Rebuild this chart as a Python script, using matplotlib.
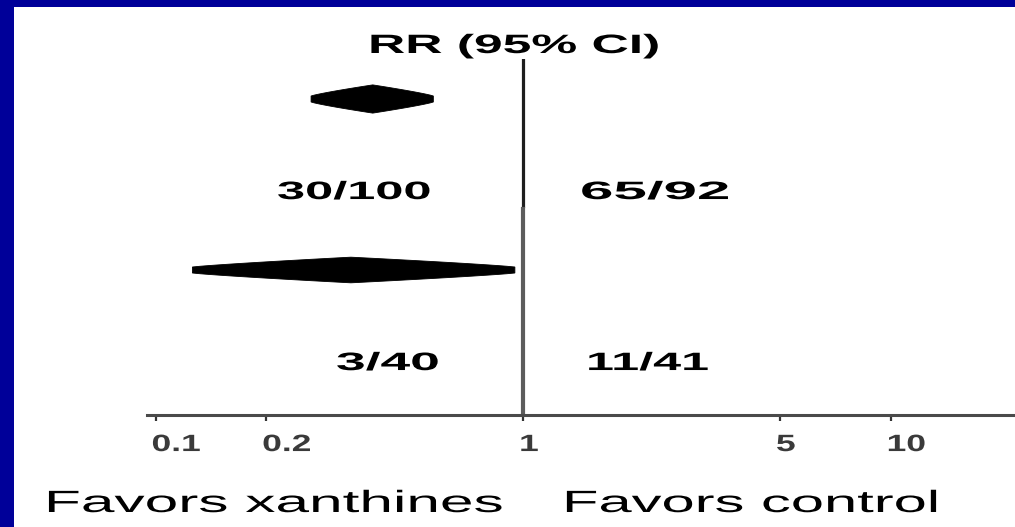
import numpy as np
import matplotlib
matplotlib.use("Agg")
import matplotlib.pyplot as plt
from matplotlib.patheffects import AbstractPathEffect
from matplotlib.transforms import Affine2D, blended_transform_factory
from matplotlib.patches import Rectangle, Polygon
from matplotlib.ticker import NullLocator

# ---------------- data ----------------
rr_estimate = [0.39, 0.34]
rr_ci_low = [0.265, 0.126]
rr_ci_high = [0.57, 0.95]
xanthine_events = ["30/100", "3/40"]
control_events = ["65/92", "11/41"]
tick_values = [0.1, 0.2, 1, 5, 10]
tick_labels = ["0.1", "0.2", "1", "5", "10"]
header = "RR (95% CI)"
favors_left = "Favors xanthines"
favors_right = "Favors control"

# ---------------- layout / style ----------------
W, H = 1015, 527
BLUE = "#000099"
plt.rcParams["font.family"] = ["Liberation Sans", "DejaVu Sans"]


class Stretch(AbstractPathEffect):
    """Horizontally widen glyphs from the text's left anchor."""

    def __init__(self, sx=1.0, dx=0.0):
        super().__init__()
        self.sx, self.dx = sx, dx

    def draw_path(self, renderer, gc, tpath, affine, rgbFace=None):
        tr = Affine2D().scale(self.sx, 1.0) + affine + Affine2D().translate(self.dx, 0)
        renderer.draw_path(gc, tpath, tr, rgbFace)


fig = plt.figure(figsize=(W / 100, H / 100), dpi=100, facecolor=BLUE)
fig.add_artist(Rectangle((14 / W, 0), 1 - 14 / W, 1 - 7 / H, transform=fig.transFigure,
                         facecolor="white", edgecolor="none", zorder=-5))

AX_L, AX_T, AX_B = 147, 59, 415
ROW0_PX, ROW_STEP = 99, 85.5
ax = fig.add_axes([AX_L / W, 1 - AX_B / H, 1 - AX_L / W, (AX_B - AX_T) / H])
ax.patch.set_visible(False)
ax.set_xscale("log")
ax.set_xlim(0.0948, 21.8)
ax.set_ylim((AX_B - ROW0_PX) / ROW_STEP, (AX_T - ROW0_PX) / ROW_STEP)

# diamonds (pooled RR with 95% CI), lens-like outline
half_h = [0.165, 0.15]
end_h = [0.035, 0.035]
for i in range(len(rr_estimate)):
    r = 2 * i
    lo, est, hi = rr_ci_low[i], rr_estimate[i], rr_ci_high[i]
    u = np.linspace(-1, 1, 41)
    lx = np.where(u < 0, np.log10(est) + u * (np.log10(est) - np.log10(lo)),
                  np.log10(est) + u * (np.log10(hi) - np.log10(est)))
    th = end_h[i] + (half_h[i] - end_h[i]) * (1 - np.abs(u)) ** 0.85
    xs = np.concatenate([10 ** lx, 10 ** lx[::-1]])
    ys = np.concatenate([r - th, (r + th)[::-1]])
    ax.add_patch(Polygon(np.column_stack([xs, ys]), closed=True, facecolor="black",
                         edgecolor="black", lw=0.6, zorder=3))

# line of no effect
split = 0.58
ax.axvline(1, ymin=split + 0.006, ymax=1, color="#1e1e1e", lw=2.3, zorder=2)
ax.axvline(1, ymin=0, ymax=split, color="#5c5c5c", lw=3.0, zorder=2)

for s in ["top", "right", "left"]:
    ax.spines[s].set_visible(False)
ax.spines["bottom"].set_color("#4a4a4a")
ax.spines["bottom"].set_linewidth(2.2)
ax.set_yticks([])
ax.set_xticks(tick_values)
ax.xaxis.set_minor_locator(NullLocator())
ax.set_xticklabels(tick_labels, ha="left", fontweight="bold",
                   path_effects=[Stretch(1.5, -4)])
ax.tick_params(axis="x", direction="out", length=4, width=1.6, color="#333333",
               pad=9, labelsize=17, labelcolor="#3a3a3a")

renderer = fig.canvas.get_renderer()
px_x = Affine2D().scale(1 / W, 1) + fig.transFigure
row_trans = blended_transform_factory(px_x, ax.transData)


def stretched_text(s, left, right, y, cap, weight, transform=None):
    size_pt = cap / 0.716 * 0.72
    if transform is None:
        t = fig.text(left / W, 1 - y / H, s, fontsize=size_pt, fontweight=weight,
                     ha="left", va="baseline", color="black")
    else:
        t = fig.text(left, y, s, fontsize=size_pt, fontweight=weight,
                     ha="left", va="baseline", color="black", transform=transform)
    w = t.get_window_extent(renderer).width
    t.set_path_effects([Stretch((right - left) / w)])
    return t


stretched_text(header, 368, 660, 53, 19, "bold")

count_x = [(277, 432, 580, 730), (336, 440, 586, 710)]
for i in range(len(xanthine_events)):
    yrow = 2 * i + 1 + 0.17
    lx0, lx1, rx0, rx1 = count_x[i]
    stretched_text(xanthine_events[i], lx0, lx1, yrow, 18, "bold", row_trans)
    stretched_text(control_events[i], rx0, rx1, yrow, 18, "bold", row_trans)

stretched_text(favors_left, 44, 504, 512, 22, "normal")
stretched_text(favors_right, 562, 940, 512, 22, "normal")

fig.savefig("out.png", dpi=100, facecolor=BLUE)
